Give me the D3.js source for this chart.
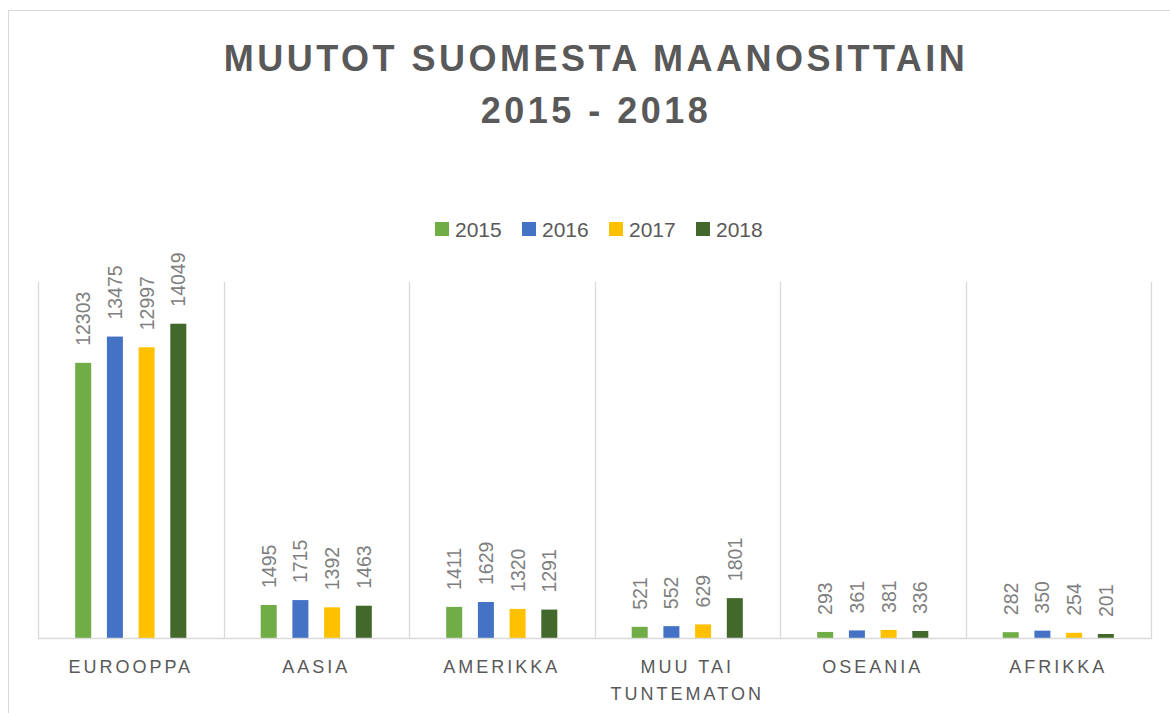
<!DOCTYPE html>
<html lang="fi">
	<head>
		<meta charset="utf-8">
		<title>Muutot Suomesta maanosittain 2015 - 2018</title>
		<script type="text/javascript" src="https://cdn.jsdelivr.net/npm/d3@7"></script>
		<style type="text/css">
			body { margin: 0; background: #fff; }
			text { font-family: "Liberation Sans", Arial, sans-serif; }
		</style>
	</head>
	<body>
		<script type="text/javascript">

			//Data
			let categories = [ ["EUROOPPA"], ["AASIA"], ["AMERIKKA"], ["MUU TAI", "TUNTEMATON"], ["OSEANIA"], ["AFRIKKA"] ];
			let years = [ "2015", "2016", "2017", "2018" ];
			let values2015 = [ 12303, 1495, 1411, 521, 293, 282 ];
			let values2016 = [ 13475, 1715, 1629, 552, 361, 350 ];
			let values2017 = [ 12997, 1392, 1320, 629, 381, 254 ];
			let values2018 = [ 14049, 1463, 1291, 1801, 336, 201 ];
			let series = [ values2015, values2016, values2017, values2018 ];
			let colors = [ "#70AD47", "#4472C4", "#FFC000", "#43682B" ];

			//Width and height
			let w = 1170;
			let h = 713;

			let svg = d3.select("body")
						.append("svg")
						  .attr("width", w)
						  .attr("height", h);

			//Chart frame
			svg.append("rect")
			     .attr("x", 8.5)
			     .attr("y", 10.5)
			     .attr("width", 1300)
			     .attr("height", 900)
			     .attr("fill", "none")
			     .attr("stroke", "#d9d9d9")
			     .attr("stroke-width", 1);

			//Title
			let title = svg.append("text")
			     .attr("text-anchor", "middle")
			     .attr("fill", "#595959")
			     .attr("font-weight", "bold")
			     .attr("font-size", 36)
			     .attr("letter-spacing", 3.5);
			title.append("tspan").attr("x", 596).attr("y", 71).text("MUUTOT SUOMESTA MAANOSITTAIN");
			title.append("tspan").attr("x", 596).attr("y", 123).text("2015 - 2018");

			//Scales
			let catKeys = categories.map(c => c.join(" "));
			let x0 = d3.scaleBand()
						.domain(catKeys)
						.range([38, 1151]);
			let groupWidth = x0.bandwidth() * 0.6836;
			let x1 = d3.scaleBand()
						.domain(years)
						.range([0, groupWidth])
						.paddingInner(0.495)
						.paddingOuter(0.2475);
			let y = d3.scaleLinear()
						.domain([0, 16000])
						.range([638.5, 280]);

			//Vertical gridlines between categories
			let bounds = catKeys.map(k => x0(k)).concat([x0.range()[1]]);
			svg.selectAll("line.grid")
			     .data(bounds)
			     .enter()
			   .append("line")
			     .attr("class", "grid")
			     .attr("x1", d => Math.round(d) + 0.5)
			     .attr("x2", d => Math.round(d) + 0.5)
			     .attr("y1", 282)
			     .attr("y2", y(0))
			     .attr("stroke", "#d9d9d9")
			     .attr("stroke-width", 1.3);

			//Bars
			let groups = svg.selectAll("g.cat")
						    .data(catKeys)
						    .enter()
						  .append("g")
						    .attr("class", "cat")
						    .attr("transform", d => `translate(${x0(d) + (x0.bandwidth() - groupWidth) / 2},0)`);

			groups.selectAll("rect")
			      .data((d, i) => years.map((yr, j) => ({ year: yr, value: series[j][i], color: colors[j] })))
			      .enter()
			    .append("rect")
			      .attr("x", d => x1(d.year))
			      .attr("y", d => y(d.value))
			      .attr("width", x1.bandwidth())
			      .attr("height", d => y(0) - y(d.value))
			      .attr("fill", d => d.color);

			//Value labels
			groups.selectAll("text")
			      .data((d, i) => years.map((yr, j) => ({ year: yr, value: series[j][i] })))
			      .enter()
			    .append("text")
			      .attr("transform", d => `translate(${x1(d.year) + x1.bandwidth() / 2},${y(d.value) - 17}) rotate(-90)`)
			      .attr("dy", "0.36em")
			      .attr("fill", "#7f7f7f")
			      .attr("font-size", 19.5)
			      .text(d => d.value);

			//Baseline
			svg.append("line")
			     .attr("x1", x0.range()[0])
			     .attr("x2", x0.range()[1] + 1)
			     .attr("y1", y(0))
			     .attr("y2", y(0))
			     .attr("stroke", "#d9d9d9")
			     .attr("stroke-width", 1.5);

			//Category labels
			let catLabels = svg.selectAll("text.cat")
						    .data(categories)
						    .enter()
						  .append("text")
						    .attr("class", "cat")
						    .attr("text-anchor", "middle")
						    .attr("fill", "#595959")
						    .attr("font-size", 18)
						    .attr("letter-spacing", 3);
			catLabels.selectAll("tspan")
			      .data(d => d.map(line => ({ line: line, key: d.join(" ") })))
			      .enter()
			    .append("tspan")
			      .attr("x", d => x0(d.key) + x0.bandwidth() / 2)
			      .attr("y", (d, i) => 673 + i * 27)
			      .text(d => d.line);

			//Legend
			let legend = svg.selectAll("g.legend")
						    .data(years)
						    .enter()
						  .append("g")
						    .attr("class", "legend")
						    .attr("transform", (d, i) => `translate(${435 + i * 87},222)`);
			legend.append("rect")
			      .attr("width", 14)
			      .attr("height", 14)
			      .attr("fill", (d, i) => colors[i]);
			legend.append("text")
			      .attr("x", 20)
			      .attr("y", 14.5)
			      .attr("fill", "#595959")
			      .attr("font-size", 21)
			      .text(d => d);

		</script>
	</body>
</html>
